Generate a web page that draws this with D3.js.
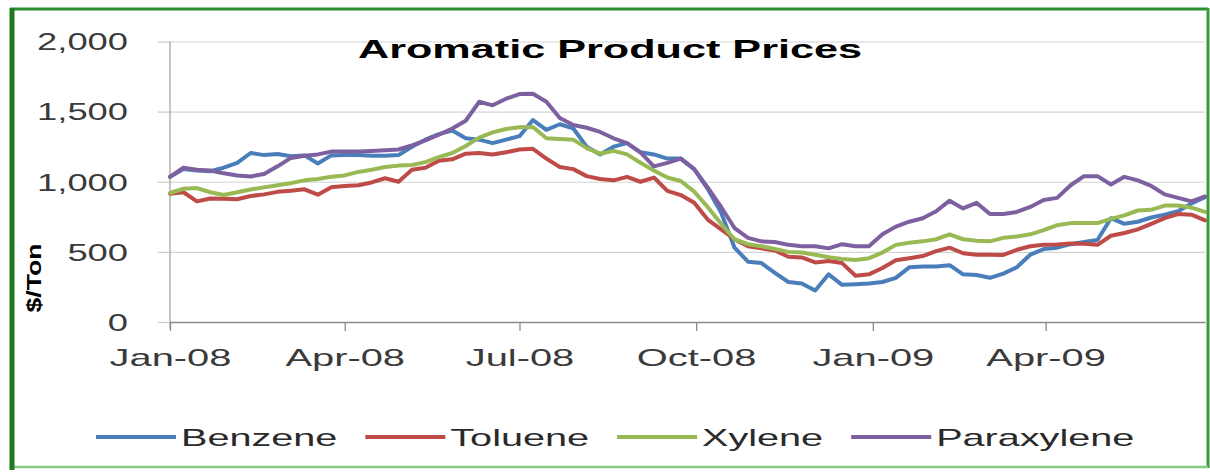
<!DOCTYPE html>
<html><head><meta charset="utf-8">
<script src="https://cdn.jsdelivr.net/npm/d3@7"></script>
<style>body{margin:0;background:#fff}svg{display:block}</style>
</head><body><svg id="c" width="1210" height="473"></svg>
<script>
// ---- data (weekly) ----
const dates = [
"2008-01-01","2008-01-08","2008-01-15","2008-01-22","2008-01-29","2008-02-05","2008-02-12","2008-02-19","2008-02-26",
"2008-03-04","2008-03-11","2008-03-18","2008-03-25","2008-04-01","2008-04-08","2008-04-15","2008-04-22","2008-04-29",
"2008-05-06","2008-05-13","2008-05-20","2008-05-27","2008-06-03","2008-06-10","2008-06-17","2008-06-24",
"2008-07-01","2008-07-08","2008-07-15","2008-07-22","2008-07-29","2008-08-05","2008-08-12","2008-08-19","2008-08-26",
"2008-09-02","2008-09-09","2008-09-16","2008-09-23","2008-09-30","2008-10-07","2008-10-14","2008-10-21","2008-10-28",
"2008-11-04","2008-11-11","2008-11-18","2008-11-25","2008-12-02","2008-12-09","2008-12-16","2008-12-23","2008-12-30",
"2009-01-06","2009-01-13","2009-01-20","2009-01-27","2009-02-03","2009-02-10","2009-02-17","2009-02-24",
"2009-03-03","2009-03-10","2009-03-17","2009-03-24","2009-03-31","2009-04-07","2009-04-14","2009-04-21","2009-04-28",
"2009-05-05","2009-05-12","2009-05-19","2009-05-26","2009-06-02","2009-06-09","2009-06-16","2009-06-23"];

const benzene = [1036,1090,1080,1075,1100,1135,1205,1190,1198,1182,1188,1130,1188,1190,1190,1185,1185,1190,
1250,1300,1340,1365,1310,1300,1275,1300,1325,1440,1370,1410,1380,1250,1195,1250,1275,1210,1195,1165,1165,1090,
950,780,530,430,420,350,285,275,225,340,265,270,275,285,315,390,395,395,405,340,335,315,345,390,480,520,
530,555,570,585,740,700,715,745,765,790,845,890];

const toluene = [915,925,860,880,878,875,898,910,928,936,946,908,960,970,975,995,1025,1000,
1085,1100,1150,1160,1200,1205,1195,1210,1230,1235,1165,1105,1090,1040,1020,1010,1035,1000,1030,935,905,850,
730,660,590,540,525,510,465,460,425,435,420,330,340,385,440,455,470,505,530,490,480,480,478,515,540,550,
552,560,558,550,615,635,660,700,740,770,765,725];

const xylene = [920,950,955,925,905,925,945,960,975,990,1010,1020,1035,1045,1070,1085,1105,1115,
1120,1140,1175,1205,1255,1315,1352,1376,1388,1390,1310,1305,1300,1240,1200,1220,1195,1135,1080,1030,1005,930,
820,700,590,555,540,520,500,495,480,462,450,442,455,495,550,565,575,590,625,590,580,575,600,610,625,655,
690,705,705,705,735,760,795,800,830,830,815,785];

const paraxylene = [1035,1100,1085,1080,1060,1045,1038,1055,1110,1170,1185,1195,1215,1215,1215,1220,1225,1230,
1260,1295,1335,1380,1435,1570,1545,1592,1625,1628,1570,1455,1405,1385,1355,1310,1275,1210,1110,1135,1165,1090,
960,820,670,600,575,570,550,540,540,525,555,540,540,625,680,715,740,790,865,810,850,770,770,785,820,870,
885,975,1040,1040,980,1035,1010,970,910,885,860,895];

const seriesNames = ["Benzene", "Toluene", "Xylene", "Paraxylene"];
const seriesValues = [benzene, toluene, xylene, paraxylene];
const seriesColors = ["#4A7EBB", "#BE4B48", "#98B954", "#7D60A0"];
const yTickValues = [0, 500, 1000, 1500, 2000];
const chartTitle = "Aromatic Product Prices";
const yAxisTitle = "$/Ton";

// ---- layout ----
const W = 1210, H = 473;
const plot = {left: 170, right: 1205, top: 41.5, bottom: 322};
const FONT = "'Liberation Sans', Arial, sans-serif";

const svg = d3.select("#c");
const parse = d3.timeParse("%Y-%m-%d");
const dts = dates.map(parse);

const x = d3.scaleTime().domain([dts[0], dts[dts.length - 1]]).range([plot.left, plot.right]);
const y = d3.scaleLinear().domain([0, 2000]).range([plot.bottom, plot.top]);

function stretch(sel, k) {
  sel.each(function () {
    const L = this.getComputedTextLength();
    this.setAttribute("textLength", L * k);
    this.setAttribute("lengthAdjust", "spacingAndGlyphs");
  });
}

svg.append("rect").attr("width", W).attr("height", H).attr("fill", "#fff");

// gridlines + y axis via d3 axis
const yAxis = d3.axisLeft(y).tickValues(yTickValues).tickFormat(d3.format(",")).tickSize(12).tickPadding(30);
const gy = svg.append("g").attr("transform", `translate(${plot.left},0)`).call(yAxis);
gy.select(".domain").remove();
gy.selectAll(".tick line").attr("stroke", "#c9c9c9").attr("stroke-width", 1.2);
gy.selectAll(".tick").append("line")
  .attr("x1", 0).attr("x2", plot.right - plot.left)
  .attr("stroke", "#d4d4d4").attr("stroke-width", 1.2);
gy.selectAll(".tick text")
  .attr("font-family", FONT).attr("font-size", 23).attr("fill", "#3a3a3a")
  .attr("x", -42).attr("dy", "0.36em");
stretch(gy.selectAll(".tick text"), 1.58);

// y axis line
svg.append("line").attr("x1", plot.left).attr("x2", plot.left)
  .attr("y1", plot.top).attr("y2", plot.bottom + 7)
  .attr("stroke", "#a6a6a6").attr("stroke-width", 1.3);

// x axis
const xAxis = d3.axisBottom(x).ticks(d3.timeMonth.every(3)).tickFormat(d3.timeFormat("%b-%y"))
  .tickSize(9).tickSizeOuter(0).tickPadding(8);
const gx = svg.append("g").attr("transform", `translate(0,${plot.bottom})`).call(xAxis);
gx.select(".domain").attr("stroke", "#8c8c8c").attr("stroke-width", 1.3);
gx.selectAll(".tick line").attr("stroke", "#8c8c8c").attr("stroke-width", 1.3);
gx.selectAll(".tick text")
  .attr("font-family", FONT).attr("font-size", 24).attr("fill", "#3a3a3a")
  .attr("y", 44).attr("dy", 0);
stretch(gx.selectAll(".tick text"), 1.66);

// series lines
const line = d3.line().x((d, i) => x(dts[i])).y(d => y(d));
seriesValues.forEach((vals, k) => {
  svg.append("path").datum(vals)
    .attr("d", line)
    .attr("fill", "none")
    .attr("stroke", seriesColors[k])
    .attr("stroke-width", 4)
    .attr("stroke-linejoin", "round")
    .attr("stroke-linecap", "round");
});

// title
svg.append("text").attr("x", 610).attr("y", 58)
  .attr("text-anchor", "middle")
  .attr("font-family", FONT).attr("font-weight", "bold").attr("font-size", 26)
  .attr("fill", "#000").attr("textLength", 504).attr("lengthAdjust", "spacingAndGlyphs")
  .text(chartTitle);

// y axis title
svg.append("text")
  .attr("transform", "translate(41,278) rotate(-90)")
  .attr("text-anchor", "middle")
  .attr("font-family", FONT).attr("font-weight", "bold").attr("font-size", 21)
  .attr("fill", "#000").attr("textLength", 69).attr("lengthAdjust", "spacingAndGlyphs")
  .text(yAxisTitle);

// legend
const lg = svg.append("g");
let lx = 96;
const ly = 437;
seriesNames.forEach((name, k) => {
  lg.append("line").attr("x1", lx).attr("x2", lx + 80).attr("y1", ly).attr("y2", ly)
    .attr("stroke", seriesColors[k]).attr("stroke-width", 4);
  const t = lg.append("text").attr("x", lx + 85).attr("y", ly + 9)
    .attr("font-family", FONT).attr("font-size", 24).attr("fill", "#2a2a2a").text(name);
  stretch(t, 1.65);
  const w = +t.attr("textLength");
  lx = lx + 85 + w + 28;
});

// frame
svg.append("line").attr("x1", 10).attr("x2", 1208).attr("y1", 9).attr("y2", 9)
  .attr("stroke", "#2f8f2f").attr("stroke-width", 3);
svg.append("line").attr("x1", 1208).attr("x2", 1208).attr("y1", 8).attr("y2", 468)
  .attr("stroke", "#3a9a3a").attr("stroke-width", 3);
svg.append("line").attr("x1", 10).attr("x2", 1208).attr("y1", 467).attr("y2", 467)
  .attr("stroke", "#86cc86").attr("stroke-width", 2.5);
svg.append("line").attr("x1", 12).attr("x2", 12).attr("y1", 8).attr("y2", 470)
  .attr("stroke", "#1f7a1f").attr("stroke-width", 5);
</script>
</body></html>
